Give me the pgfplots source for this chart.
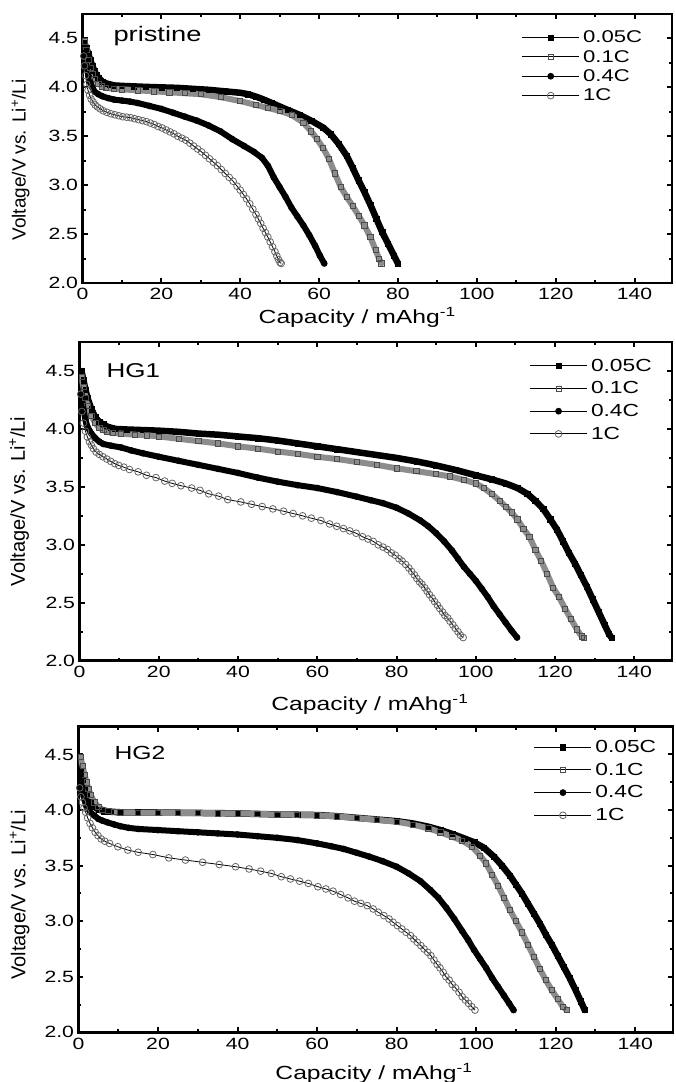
\documentclass[border=0pt]{standalone}
\usepackage{fontspec}
\setmainfont{Liberation Sans}[FakeStretch=1.3]
\newfontfamily\ylabfont{Liberation Sans}
\usepackage{pgfplots}
\usepackage{pgfplotstable}
\pgfplotsset{compat=1.18}

% ---------------- pristine ----------------
\pgfplotstableread{
x y
0.5 4.45
1 4.40
1.5 4.34
2 4.28
2.5 4.22
3 4.17
3.5 4.13
4 4.10
5 4.06
6 4.04
7 4.03
8 4.02
10 4.015
13 4.01
16 4.005
20 4.00
24 3.995
28 3.985
32 3.975
36 3.96
40 3.945
42 3.93
44 3.905
46 3.875
48 3.84
50 3.805
52 3.77
55 3.72
58 3.66
61 3.59
63 3.52
65 3.42
67 3.30
68.5 3.18
70 3.05
71.5 2.93
73 2.80
74.5 2.66
76 2.52
77.5 2.40
79 2.28
80 2.20
}\pA
\pgfplotstableread{
x y
0.5 4.47
1 4.38
1.5 4.28
2 4.20
2.5 4.14
3 4.09
4 4.04
5 4.01
6 3.995
8 3.985
10 3.98
14 3.97
18 3.96
22 3.95
26 3.94
30 3.93
35 3.90
40 3.86
44 3.82
47 3.79
50 3.76
53 3.72
56 3.64
58 3.55
59.5 3.47
61 3.38
62.5 3.27
64 3.12
65.5 2.98
67 2.88
68.5 2.79
70 2.69
71.5 2.59
73 2.47
74.3 2.34
75.2 2.25
75.8 2.20
}\pB
\pgfplotstableread{
x y
0.5 4.35
1 4.22
1.5 4.12
2 4.05
2.5 4.00
3 3.96
4 3.93
5 3.91
6.5 3.89
8 3.875
10 3.865
12 3.855
14 3.84
17 3.81
20 3.78
23 3.74
26 3.70
29 3.66
32 3.61
35 3.55
38 3.47
41 3.40
43.5 3.34
45.5 3.28
47 3.20
48.5 3.08
50 2.98
51.5 2.88
53 2.77
54.5 2.68
56 2.59
57.5 2.49
59 2.38
60.2 2.28
61.3 2.20
}\pC
\pgfplotstableread{
x y
0.3 4.32
0.5 4.22
0.8 4.12
1.1 4.03
1.4 3.97
1.8 3.92
2.2 3.88
2.7 3.85
3.2 3.82
3.8 3.80
4.5 3.78
5.3 3.76
6.2 3.745
7.2 3.73
8.2 3.72
9.2 3.71
10.2 3.70
11.2 3.695
12.2 3.69
13.2 3.68
14.2 3.67
15.2 3.66
16.2 3.65
17.2 3.635
18.2 3.62
19.2 3.60
20.2 3.585
21.2 3.565
22.2 3.545
23.2 3.525
24.2 3.50
25.2 3.48
26.2 3.46
27.2 3.43
28.2 3.40
29.2 3.37
30.2 3.34
31.2 3.305
32.2 3.27
33.2 3.235
34.2 3.20
35.2 3.16
36.2 3.12
37.2 3.08
38.2 3.04
39.2 2.99
40 2.95
40.8 2.905
41.6 2.86
42.4 2.81
43.2 2.755
44 2.70
44.6 2.655
45.2 2.61
45.8 2.56
46.4 2.515
47 2.47
47.6 2.42
48.2 2.37
48.8 2.32
49.3 2.275
49.7 2.24
50.1 2.21
50.4 2.20
}\pD

% ---------------- HG1 ----------------
\pgfplotstableread{
x y
0.5 4.50
1 4.42
1.5 4.34
2 4.27
3 4.17
4 4.10
5 4.06
6 4.04
7 4.02
8 4.01
9 4.00
12 3.995
16 3.99
20 3.985
25 3.975
30 3.96
35 3.95
40 3.935
45 3.92
50 3.90
55 3.875
60 3.85
65 3.825
70 3.80
75 3.775
80 3.75
85 3.72
90 3.685
95 3.645
100 3.60
104 3.565
107.5 3.53
110.5 3.49
113 3.44
115 3.38
117 3.31
118.8 3.22
120.5 3.13
122 3.03
123.5 2.93
125 2.84
126.5 2.74
128 2.64
129.5 2.53
131 2.42
132.5 2.31
133.6 2.23
134.2 2.20
}\hA
\pgfplotstableread{
x y
0.5 4.45
1 4.36
1.5 4.27
2 4.20
3 4.11
4 4.05
5 4.01
6 3.99
7 3.975
8.5 3.965
10.5 3.96
14 3.95
17 3.945
20 3.935
25 3.915
30 3.895
35 3.875
40 3.85
45 3.83
50 3.805
55 3.785
60 3.76
65 3.74
70 3.715
75 3.69
80 3.66
85 3.635
90 3.61
93.5 3.59
97 3.56
100 3.53
102 3.49
104 3.44
106 3.38
107.5 3.33
109 3.28
110.5 3.22
112 3.14
113.5 3.07
115 2.96
116.5 2.86
118 2.75
119.5 2.63
121 2.55
122.5 2.45
124 2.36
125.5 2.27
126.7 2.21
127.2 2.20
}\hB
\pgfplotstableread{
x y
0.5 4.30
1 4.17
1.5 4.08
2 4.02
3 3.96
4 3.92
5 3.89
6 3.87
8 3.855
10.5 3.84
13 3.815
16 3.79
20 3.76
25 3.725
30 3.69
35 3.655
40 3.62
45 3.58
50 3.545
55 3.515
60 3.49
65 3.455
70 3.415
73.5 3.385
76.5 3.36
80 3.32
83 3.27
86 3.21
88 3.16
90 3.10
92 3.03
94 2.95
95.5 2.88
97 2.81
98.5 2.75
100 2.69
101.5 2.62
103 2.55
104.5 2.47
106 2.40
107.5 2.33
109 2.26
110.4 2.20
}\hC
\pgfplotstableread{
x y
0.3 4.30
0.6 4.15
1 4.05
1.5 3.98
2 3.93
2.5 3.89
3 3.86
3.5 3.83
4.2 3.80
5 3.78
5.9 3.76
6.9 3.74
7.9 3.72
8.9 3.70
9.9 3.685
11.2 3.67
12.6 3.65
14.8 3.63
16.9 3.60
19.3 3.58
21.5 3.55
23.4 3.53
25.6 3.51
28.3 3.49
30.4 3.47
32.6 3.44
35.1 3.42
37.4 3.39
40.7 3.37
43.4 3.35
46.1 3.33
48.8 3.31
51.5 3.29
53.9 3.27
56.3 3.25
58.5 3.23
60.9 3.21
63.1 3.18
64.9 3.16
66.6 3.14
68.2 3.12
69.8 3.10
71.4 3.07
72.8 3.05
74.1 3.03
75.4 3.00
76.6 2.98
77.7 2.96
78.7 2.93
79.7 2.91
80.6 2.88
81.4 2.86
82.3 2.83
83.1 2.80
83.8 2.77
84.5 2.74
85.1 2.71
85.8 2.68
86.4 2.66
87.1 2.63
87.7 2.60
88.3 2.57
89.0 2.54
89.6 2.51
90.3 2.48
90.9 2.45
91.6 2.42
92.2 2.39
92.9 2.37
93.5 2.34
94.2 2.31
94.8 2.28
95.5 2.25
96.1 2.22
96.8 2.20
}\hD

% ---------------- HG2 ----------------
\pgfplotstableread{
x y
0.5 4.35
1 4.27
1.5 4.20
2 4.14
3 4.07
4 4.03
5 4.005
6.5 3.99
8 3.985
10.5 3.98
15 3.98
20 3.978
25 3.976
30 3.974
35 3.972
40 3.97
45 3.965
50 3.96
55 3.958
60 3.955
65 3.945
70 3.93
75 3.915
80 3.90
84 3.88
88 3.85
91 3.82
94 3.785
97 3.745
99.5 3.71
102 3.66
104.5 3.58
106.5 3.50
108.5 3.41
110 3.33
111.5 3.25
113 3.16
114.5 3.07
116 2.98
117.5 2.88
119 2.79
120.5 2.69
122 2.59
123.5 2.49
125 2.38
126.3 2.28
127.3 2.20
}\gA
\pgfplotstableread{
x y
0.5 4.48
1 4.40
1.5 4.32
2 4.25
2.5 4.19
3 4.14
4 4.07
5 4.03
6 4.005
7.5 3.99
9 3.982
10.5 3.98
15 3.978
20 3.976
25 3.975
30 3.973
35 3.971
40 3.97
45 3.965
50 3.96
55 3.957
60 3.953
65 3.943
70 3.928
75 3.912
80 3.895
84 3.87
88 3.835
91 3.80
94 3.76
96.5 3.725
99 3.67
101 3.59
102.5 3.52
104 3.42
105.5 3.32
107 3.21
108.5 3.10
110 3.00
111.5 2.90
113 2.79
114.5 2.68
116 2.57
117.5 2.47
119 2.38
120.5 2.30
121.8 2.23
122.8 2.20
}\gB
\pgfplotstableread{
x y
0.5 4.32
1 4.20
1.5 4.10
2 4.04
3 3.98
4 3.95
5 3.92
6 3.905
7.2 3.89
9 3.87
10.5 3.855
12.6 3.84
15 3.83
20 3.82
25 3.81
30 3.80
35 3.79
40 3.78
45 3.765
50 3.75
55 3.73
60 3.70
63.5 3.675
66.7 3.65
70 3.615
73.2 3.58
76.5 3.54
80 3.49
83 3.43
86 3.36
88.5 3.28
90.5 3.21
92.5 3.12
94.5 3.02
96.5 2.91
98 2.83
99.5 2.74
101 2.66
102.5 2.58
104 2.49
105.5 2.41
107 2.33
108.3 2.26
109.4 2.20
}\gC
\pgfplotstableread{
x y
0.3 4.20
0.6 4.12
1 4.07
1.4 4.02
1.8 3.98
2.3 3.93
2.9 3.88
3.5 3.84
4.2 3.80
4.9 3.77
5.7 3.74
6.6 3.72
7.8 3.70
9.9 3.67
12.4 3.64
15 3.62
18.7 3.60
22.7 3.57
26.9 3.55
31.2 3.53
35.4 3.51
39.5 3.49
42.9 3.47
45.8 3.45
48.5 3.43
51 3.40
53.3 3.38
55.6 3.36
57.8 3.34
60.2 3.31
62.2 3.29
64 3.27
65.9 3.24
67.8 3.21
69.4 3.18
71 3.16
72.6 3.14
74.1 3.11
75.4 3.08
76.8 3.05
78.1 3.02
79.1 2.99
80.2 2.96
81.3 2.93
82.4 2.90
83.5 2.87
84.3 2.84
85.2 2.81
86.1 2.78
86.9 2.75
87.8 2.72
88.6 2.69
89.4 2.65
90.2 2.61
90.9 2.58
91.7 2.54
92.4 2.50
93.2 2.47
94 2.43
94.8 2.40
95.7 2.36
96.5 2.32
97.3 2.29
98.1 2.26
98.9 2.23
99.7 2.20
}\gD

\pgfplotsset{
  myaxis/.style={
    scale only axis,
    xmin=0, xmax=149.5, ymin=2, ymax=4.75,
    xtick={0,20,...,140}, ytick={2,2.5,...,4.5},
    minor x tick num=1, minor y tick num=1,
    tick align=inside,
    major tick length=5pt, minor tick length=3pt,
    tick style={black, line width=2pt},
    axis line style={black, line width=2.8pt},
    /pgf/number format/assume math mode=true,
    ticklabel style={font=\fontsize{16.3}{16.3}\selectfont},
    xticklabel style={yshift=-2pt},
    yticklabel style={xshift=-1pt},
    y tick label style={/pgf/number format/.cd, fixed, fixed zerofill, precision=1, /tikz/.cd},
    xlabel={Capacity / mAhg\textsuperscript{-1}},
    ylabel={Voltage/V vs. Li\textsuperscript{+}/Li},
    legend cell align=left,
    legend image code/.code={\draw[mark repeat=2,mark phase=2,draw=black,line width=1.1pt] plot coordinates {(0pt,0pt) (28.5pt,0pt) (57pt,0pt)};},
  },
  bandA/.style={forget plot, black, line width=6.5pt, line join=round, line cap=round},
  serA/.style={black, line width=1pt, mark=square*, mark size=2.6pt, mark options={solid, fill=black, draw=black, line width=0.5pt}},
  bandB/.style={forget plot, black!45, line width=6pt, line join=round, line cap=round},
  serB/.style={black!45, line width=0.5pt, mark=square, mark size=2.6pt, mark options={solid, draw=black!70, fill=none, line width=0.7pt}},
  bandC/.style={forget plot, black, line width=6pt, line join=round, line cap=round},
  serC/.style={black, line width=1pt, mark=*, mark size=2.8pt, mark options={solid, fill=black, draw=black}},
  serD/.style={black, line width=0.8pt, mark=o, mark size=3.4pt, mark options={solid, draw=black!60, fill=white, line width=0.8pt}},
}

\begin{document}
\begin{tikzpicture}
\useasboundingbox (0pt,0pt) rectangle (675pt,-1082pt);

% ---------- panel 1 ----------
\begin{axis}[myaxis,
  at={(82.5pt,-14pt)}, anchor=north west,
  width=589.5pt, height=269pt,
  xlabel style={at={(axis description cs:0.466,-0.1487)}, anchor=base, font=\fontsize{19}{19}\selectfont},
  ylabel style={at={(axis description cs:-0.105,0.457)}, anchor=center, font=\ylabfont\fontsize{19}{19}\selectfont},
  legend style={at={(rel axis cs:0.745,0.9375)}, anchor=north west, draw=none, fill=none,
    inner sep=0pt, outer sep=0pt, row sep=6pt, font=\fontsize{17}{17}\selectfont,
    nodes={inner sep=0pt, outer sep=0pt},
    /tikz/every odd column/.append style={column sep=3.4pt}},
]
\addplot[bandA] table {\pA};
\addplot[serA] table {\pA};
\addplot[bandB] table {\pB};
\addplot[serB] table {\pB};
\addplot[bandC] table {\pC};
\addplot[serC] table {\pC};
\addplot[serD] table {\pD};
\legend{0.05C,0.1C,0.4C,1C}
\node[anchor=base west, font=\fontsize{21}{21}\selectfont] at (rel axis cs:0.0466,0.896) {pristine};
\end{axis}

% ---------- panel 2 ----------
\begin{axis}[myaxis,
  at={(79.5pt,-342pt)}, anchor=north west,
  width=592.5pt, height=318.7pt,
  xlabel style={at={(axis description cs:0.49,-0.1547)}, anchor=base, font=\fontsize{19}{19}\selectfont},
  ylabel style={at={(axis description cs:-0.102,0.5)}, anchor=center, font=\ylabfont\fontsize{20}{20}\selectfont},
  legend style={at={(rel axis cs:0.7595,0.947)}, anchor=north west, draw=none, fill=none,
    inner sep=0pt, outer sep=0pt, row sep=9pt, font=\fontsize{17.5}{17.5}\selectfont,
    nodes={inner sep=0pt, outer sep=0pt},
    /tikz/every odd column/.append style={column sep=3.4pt}},
]
\addplot[bandA] table {\hA};
\addplot[serA] table {\hA};
\addplot[bandB] table {\hB};
\addplot[serB] table {\hB};
\addplot[bandC] table {\hC};
\addplot[serC] table {\hC};
\addplot[serD] table {\hD};
\legend{0.05C,0.1C,0.4C,1C}
\node[anchor=base west, font=\fontsize{20}{20}\selectfont] at (rel axis cs:0.0397,0.890) {HG1};
\end{axis}

% ---------- panel 3 ----------
\begin{axis}[myaxis,
  at={(78.5pt,-726.7pt)}, anchor=north west,
  width=594.5pt, height=305.6pt,
  xlabel style={at={(axis description cs:0.497,-0.1528)}, anchor=base, font=\fontsize{19}{19}\selectfont},
  ylabel style={at={(axis description cs:-0.099,0.45)}, anchor=center, font=\ylabfont\fontsize{20}{20}\selectfont},
  legend style={at={(rel axis cs:0.766,0.9555)}, anchor=north west, draw=none, fill=none,
    inner sep=0pt, outer sep=0pt, row sep=9pt, font=\fontsize{17.5}{17.5}\selectfont,
    nodes={inner sep=0pt, outer sep=0pt},
    /tikz/every odd column/.append style={column sep=3.4pt}},
]
\addplot[bandA] table {\gA};
\addplot[serA] table {\gA};
\addplot[bandB] table {\gB};
\addplot[serB] table {\gB};
\addplot[bandC] table {\gC};
\addplot[serC] table {\gC};
\addplot[serD] table {\gD};
\legend{0.05C,0.1C,0.4C,1C}
\node[anchor=base west, font=\fontsize{19}{19}\selectfont] at (rel axis cs:0.0547,0.8936) {HG2};
\end{axis}
\end{tikzpicture}
\end{document}
